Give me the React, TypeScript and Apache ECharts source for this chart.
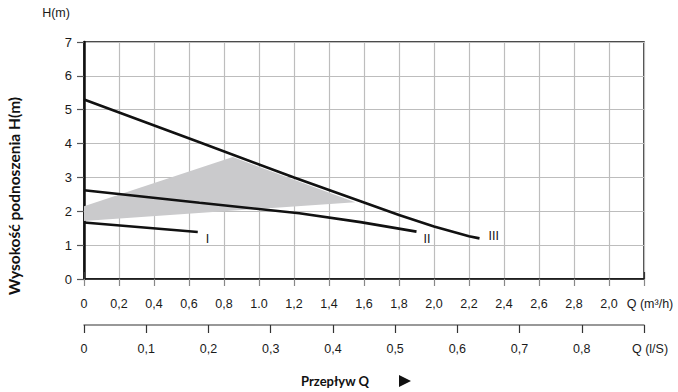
import React, { useEffect, useRef } from "react";
import * as echarts from "echarts";

// ---- data ----
const flowM3Labels = ["0", "0,2", "0,4", "0,6", "0,8", "1.0", "1,2", "1,4", "1,6", "1,8", "2,0", "2,2", "2,4", "2,6", "2,8", "2,0", "Q (m³/h)"];
const flowLsLabels = ["0", "0,1", "0,2", "0,3", "0,4", "0,5", "0,6", "0,7", "0,8", "Q (l/S)"];

const curveIName = "I";
const curveIQ = [0, 0.65];
const curveIH = [1.67, 1.39];

const curveIIName = "II";
const curveIIQ = [0, 0.66, 1.23, 1.58, 1.9];
const curveIIH = [2.62, 2.25, 1.94, 1.68, 1.4];

const curveIIIName = "III";
const curveIIIQ = [0, 0.66, 1.2, 1.6, 1.8, 2.0, 2.2, 2.26];
const curveIIIH = [5.3, 4.04, 3.0, 2.26, 1.89, 1.55, 1.26, 1.2];

const shadeQ = [0, 0.85, 1.55, 0];
const shadeH = [2.15, 3.6, 2.27, 1.71];

const pairs = (q: number[], h: number[]) => q.map((v, i) => [v, h[i]]);

const FONT = "'Liberation Sans', Arial, sans-serif";
const BOLD_FONT = "Lato, 'Open Sans', sans-serif";

export default function App() {
  const ref = useRef<HTMLDivElement>(null);
  useEffect(() => {
    if (!ref.current) return;
    document.body.style.margin = "0";
    const chart = echarts.init(ref.current, undefined, { renderer: "svg" });

    const lineSeries = (name: string, q: number[], h: number[], offset: number[]) => ({
      type: "line",
      name,
      xAxisIndex: 0,
      yAxisIndex: 0,
      data: pairs(q, h),
      showSymbol: false,
      symbol: "none",
      color: "#111",
      itemStyle: { color: "#111" },
      lineStyle: { color: "#111", width: 2.6 },
      z: 5,
      endLabel: {
        show: true,
        formatter: name,
        distance: 0,
        align: "left",
        verticalAlign: "middle",
        offset,
        color: "#111",
        textBorderWidth: 0,
        fontSize: 12.5,
        fontFamily: FONT,
      },
    });

    chart.setOption({
      animation: false,
      backgroundColor: "#fff",
      color: ["#111"],
      grid: {
        left: 84,
        right: 34,
        top: 42,
        bottom: 113,
        show: true,
        borderColor: "#111",
        borderWidth: 1.5,
      },
      xAxis: [
        {
          type: "value",
          position: "bottom",
          min: 0,
          max: 3.2,
          interval: 0.2,
          axisLine: { show: true, onZero: false, lineStyle: { color: "#111", width: 1.5 } },
          axisTick: { show: true, length: 7, lineStyle: { color: "#888", width: 1.2 } },
          splitLine: { show: true, lineStyle: { color: "#bdbdbd", width: 1.2 } },
          axisLabel: {
            margin: 18,
            color: "#1a1a1a",
            fontSize: 12.5,
            fontFamily: FONT,
            showMinLabel: true,
            showMaxLabel: true,
            formatter: (v: number) => {
              const i = Math.round(v / 0.2);
              const t = flowM3Labels[i] ?? "";
              return i === flowM3Labels.length - 1 ? "{q|" + t + "}" : t;
            },
            rich: { q: { padding: [0, 0, 0, 12], fontSize: 12.5, fontFamily: FONT, color: "#1a1a1a" } },
          },
        },
        {
          type: "value",
          position: "bottom",
          offset: 46,
          min: 0,
          max: 0.9,
          interval: 0.1,
          axisLine: { show: true, onZero: false, lineStyle: { color: "#777", width: 1.5 } },
          axisTick: { show: true, length: 8, lineStyle: { color: "#333", width: 1.2 } },
          splitLine: { show: false },
          axisLabel: {
            margin: 17,
            color: "#1a1a1a",
            fontSize: 12.5,
            fontFamily: FONT,
            showMinLabel: true,
            showMaxLabel: true,
            formatter: (v: number) => {
              const i = Math.round(v / 0.1);
              const t = flowLsLabels[i] ?? "";
              return i === flowLsLabels.length - 1 ? "{q|" + t + "}" : t;
            },
            rich: { q: { padding: [0, 0, 0, 12], fontSize: 12.5, fontFamily: FONT, color: "#1a1a1a" } },
          },
        },
        {
          type: "value",
          position: "bottom",
          offset: 46,
          min: 0,
          max: 0.9,
          interval: 0.9,
          axisLine: { show: false },
          axisTick: { show: true, inside: true, length: 7, lineStyle: { color: "#333", width: 1.2 } },
          splitLine: { show: false },
          axisLabel: { show: false },
        },
      ],
      yAxis: [
        {
          type: "value",
          min: 0,
          max: 7,
          interval: 1,
          axisLine: { show: true, onZero: false, lineStyle: { color: "#111", width: 2.5 } },
          axisTick: { show: true, length: 7, lineStyle: { color: "#555", width: 1.2 } },
          splitLine: { show: true, lineStyle: { color: "#bdbdbd", width: 1.2 } },
          axisLabel: { margin: 12, color: "#1a1a1a", fontSize: 13, fontFamily: FONT },
        },
      ],
      series: [
        {
          type: "custom",
          xAxisIndex: 0,
          yAxisIndex: 0,
          data: pairs(shadeQ, shadeH),
          z: 3,
          renderItem: (params: any, api: any) => {
            if (params.dataIndex !== 0) return null;
            const points = shadeQ.map((q, i) => api.coord([q, shadeH[i]]));
            return { type: "polygon", shape: { points }, style: { fill: "#cacacc" } };
          },
        },
        lineSeries(curveIName, curveIQ, curveIH, [8, 7]),
        lineSeries(curveIIName, curveIIQ, curveIIH, [7, 7]),
        lineSeries(curveIIIName, curveIIIQ, curveIIIH, [9, -2]),
      ],
      graphic: [
        {
          type: "text",
          x: 56,
          y: 13,
          style: { text: "H(m)", font: `12.5px ${FONT}`, fill: "#1a1a1a", align: "center", verticalAlign: "middle" },
        },
        {
          type: "text",
          x: 14,
          y: 196,
          rotation: Math.PI / 2,
          style: {
            text: "Wysokość podnoszenia H(m)",
            font: `bold 15.5px ${BOLD_FONT}`,
            fill: "#111",
            align: "center",
            verticalAlign: "middle",
          },
        },
        {
          type: "text",
          x: 335,
          y: 381,
          style: {
            text: "Przepływ Q",
            font: `bold 13px ${BOLD_FONT}`,
            fill: "#111",
            align: "center",
            verticalAlign: "middle",
          },
        },
        {
          type: "polygon",
          shape: { points: [[399, 375], [399, 387], [411, 381]] },
          style: { fill: "#111" },
        },
      ],
    });
    return () => chart.dispose();
  }, []);
  return <div ref={ref} style={{ position: "fixed", left: 0, top: 0, width: 678, height: 392 }} />;
}
